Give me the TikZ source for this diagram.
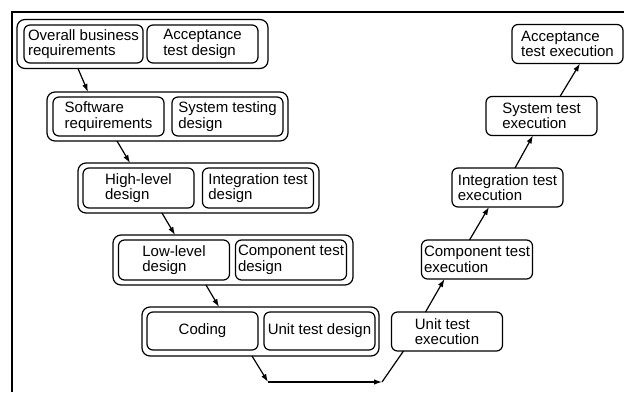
\documentclass[tikz,border=0pt]{standalone}
\usepackage{fontspec}
\setmainfont{Liberation Sans}
\usetikzlibrary{arrows.meta}

\begin{document}
\begin{tikzpicture}[x=1pt, y=-1pt,
    every node/.style={inner sep=0pt, outer sep=0pt, line width=1.2pt},
    stage/.style={draw, rounded corners=6pt, align=left, minimum width=111pt, minimum height=39pt,
                  font=\fontsize{15}{15.5}\selectfont},
    group/.style={draw, rounded corners=8pt, minimum height=49pt},
    flow/.style={-{Latex[length=8pt,width=5.5pt]}, line width=1.2pt}]

\useasboundingbox (0,0) rectangle (624,392);

% ===== Frame (cut off at right and bottom) =====
\draw[line width=1.2pt] (12,392) -- (12,12) -- (624,12);

% ===== Design side (paired boxes) =====
\node[group, minimum width=251pt] (g1) at (142.5,44) {};
\node[stage, minimum width=119pt, minimum height=38pt] (obr) at (83.5,44) {Overall business\\requirements};
\node[stage, minimum height=38pt] (atd) at (202.5,44) {Acceptance\\test design};

\node[group, minimum width=241pt] (g2) at (167.5,116.5) {};
\node[stage] (swr) at (108.5,116.5) {Software\\requirements};
\node[stage] (std) at (227.5,116.5) {System testing\\design};

\node[group, minimum width=241pt, minimum height=50pt] (g3) at (198.5,188) {};
\node[stage, minimum height=40pt] (hld) at (138.5,188) {High-level\\design};
\node[stage, minimum height=40pt] (itd) at (258,188) {Integration test\\design};

\node[group, minimum width=240pt, minimum height=50pt] (g4) at (233,260) {};
\node[stage, minimum height=40pt] (lld) at (174,260) {Low-level\\design};
\node[stage, minimum height=40pt] (ctd) at (291,260) {Component test\\design};

\node[group, minimum width=237pt] (g5) at (260.5,331.5) {};
\node[stage, minimum height=38pt] (cod) at (202.5,331) {Coding};
\node[stage, minimum height=38pt] (utd) at (319.5,331) {Unit test design};

% ===== Execution side =====
\foreach \name/\cx/\cy/\txt in {ute/447/331.5/{Unit test\\execution},
                                cte/477/259.5/{Component test\\execution},
                                ite/507.5/187.5/{Integration test\\execution},
                                ste/541.5/116/{System test\\execution},
                                ate/567.5/44/{Acceptance\\test execution}} {
    \node[stage] (\name) at (\cx,\cy) {\txt};
}

% ===== Down the V =====
\foreach \a/\da/\b/\db in {g1/61/g2/41, g2/70/g3/52, g3/84/g4/62, g4/93/g5/77} {
    \draw[flow] ([xshift=\da pt]\a.south west) -- ([xshift=\db pt]\b.north west);
}

% bottom turn
\coordinate (turn) at (268,382);
\coordinate (mid) at (382,382);
\draw[flow] ([xshift=110pt]g5.south west) -- (turn);
\draw[flow] (turn) -- (mid);
\draw[line width=1.2pt] (mid) -- ([xshift=12pt]ute.south west);

% ===== Up the V =====
\foreach \a/\da/\b/\db in {ute/34/cte/23, cte/48/ite/37, ite/63/ste/47, ste/74/ate/68} {
    \draw[flow] ([xshift=\da pt]\a.north west) -- ([xshift=\db pt]\b.south west);
}

\end{tikzpicture}
\end{document}
